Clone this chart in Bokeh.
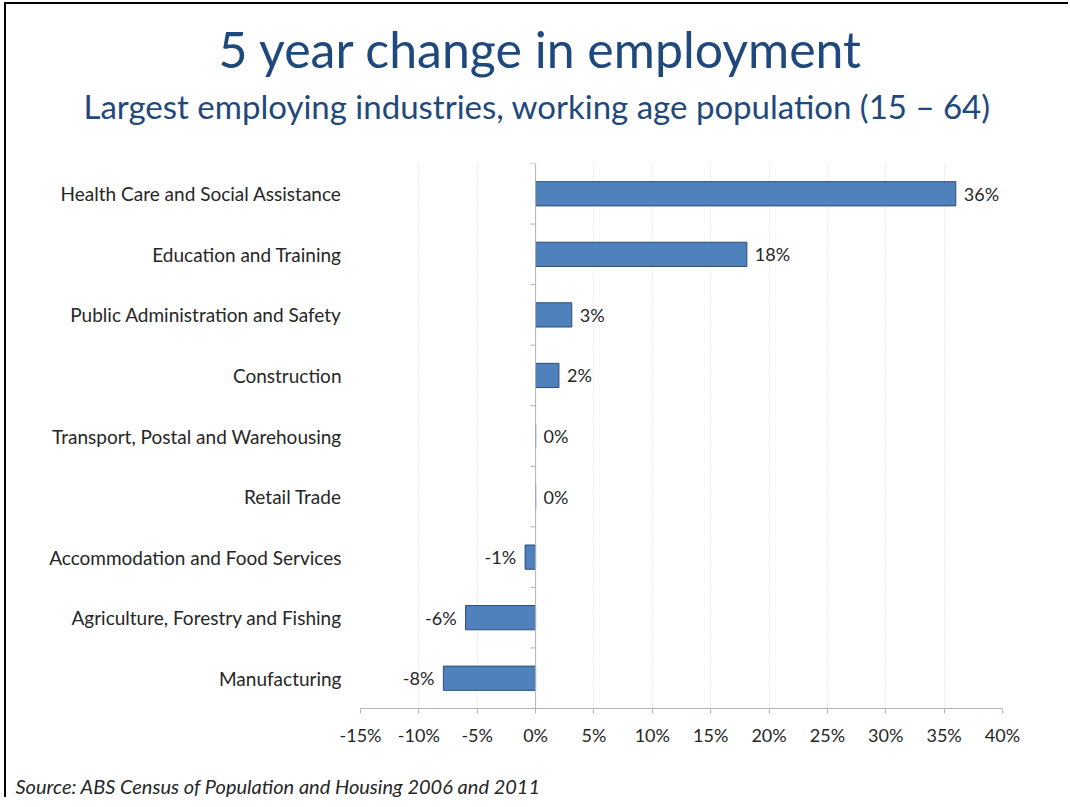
from bokeh.plotting import figure
from bokeh.models import (ColumnDataSource, FactorRange, Range1d, FixedTicker,
                          PrintfTickFormatter, Span, Title)
from bokeh.core.properties import value
from bokeh.embed import file_html
from bokeh.resources import INLINE

# ---- data ----
categories = ["Health Care and Social Assistance", "Education and Training",
              "Public Administration and Safety", "Construction",
              "Transport, Postal and Warehousing", "Retail Trade",
              "Accommodation and Food Services", "Agriculture, Forestry and Fishing",
              "Manufacturing"]
values = [36.0, 18.1, 3.1, 2.0, 0.0, 0.0, -0.9, -6.0, -7.9]
value_labels = ["36%", "18%", "3%", "2%", "0%", "0%", "-1%", "-6%", "-8%"]
x_ticks = [-15, -10, -5, 0, 5, 10, 15, 20, 25, 30, 35, 40]

TITLE = "5 year change in employment"
SUBTITLE = "Largest employing industries, working age population (15 \u2013 64)"
SOURCE = "Source: ABS Census of Population and Housing 2006 and 2011"

FONT = "Lato"
NAVY = "#1F497D"
TXT = "#262626"
AXIS = "#B4B4B4"

p = figure(width=1064, height=795, output_backend="svg", toolbar_location=None,
           y_range=FactorRange(factors=categories[::-1]),
           x_range=Range1d(x_ticks[0], x_ticks[-1]),
           min_border_left=354, min_border_right=68,
           min_border_top=159, min_border_bottom=91)
p.styles = {"margin-left": "4px", "margin-top": "2px", "margin-bottom": "-12px",
            "margin-right": "-16px",
            "border-left": "2px solid #000", "border-top": "2px solid #000"}
p.outline_line_color = None
p.background_fill_color = "white"
p.border_fill_color = "white"

src = ColumnDataSource(dict(cat=categories, val=values, lab=value_labels))
p.hbar(y="cat", left=0, right="val", height=0.4, source=src,
       fill_color="#4F81BD", line_color="#2C4D75", line_width=1)

# value labels
pos = [i for i, v in enumerate(values) if v >= 0]
neg = [i for i, v in enumerate(values) if v < 0]
src_pos = ColumnDataSource(dict(cat=[categories[i] for i in pos],
                                val=[values[i] for i in pos],
                                lab=[value_labels[i] for i in pos]))
src_neg = ColumnDataSource(dict(cat=[categories[i] for i in neg],
                                val=[values[i] for i in neg],
                                lab=[value_labels[i] for i in neg]))
p.text(x="val", y="cat", text="lab", source=src_pos, x_offset=8,
       text_align="left", text_baseline="middle", text_font=value(FONT),
       text_font_size="18px", text_color=TXT)
p.text(x="val", y="cat", text="lab", source=src_neg, x_offset=-9,
       text_align="right", text_baseline="middle", text_font=value(FONT),
       text_font_size="18px", text_color=TXT)

# zero axis line with small category ticks
p.add_layout(Span(location=0, dimension="height", line_color=AXIS, line_width=1))
bounds = list(range(len(categories) + 1))
p.segment(x0=[0] * len(bounds), x1=[-0.45] * len(bounds), y0=bounds, y1=bounds,
          line_color=AXIS, line_width=1)

# axes
p.xaxis.ticker = FixedTicker(ticks=x_ticks)
p.xaxis.formatter = PrintfTickFormatter(format="%d%%")
p.xaxis.axis_line_color = AXIS
p.xaxis.major_tick_line_color = AXIS
p.xaxis.major_tick_out = 5
p.xaxis.major_tick_in = 0
p.xaxis.minor_tick_line_color = None
p.xaxis.major_label_text_font = FONT
p.xaxis.major_label_text_font_size = "18px"
p.xaxis.major_label_text_color = TXT
p.xaxis.major_label_standoff = 10

p.yaxis.axis_line_color = None
p.yaxis.major_tick_line_color = None
p.yaxis.major_tick_out = 0
p.yaxis.major_tick_in = 0
p.yaxis.minor_tick_line_color = None
p.yaxis.major_label_text_font = FONT
p.yaxis.major_label_text_font_size = "19px"
p.yaxis.major_label_text_color = TXT
p.yaxis.major_label_standoff = 19

p.xgrid.grid_line_color = "#D4D4D4"
p.xgrid.grid_line_dash = "1 2"
p.ygrid.grid_line_color = None

# titles: subtitle nearest the frame, main title above it
p.add_layout(Title(text=SUBTITLE, align="left", offset=-277, text_font=FONT,
                   text_font_size="33px", text_font_style="normal",
                   text_color=NAVY, standoff=75), "above")
p.add_layout(Title(text=TITLE, align="left", offset=-142, text_font=FONT,
                   text_font_size="50px", text_font_style="normal",
                   text_color=NAVY, standoff=-64), "above")
# spacer between the axis and the source note
p.add_layout(Title(text=" ", text_font_size="1px", standoff=20), "below")
p.add_layout(Title(text=SOURCE, align="left", offset=-345, text_font=FONT,
                   text_font_size="20px", text_font_style="italic",
                   text_color=TXT, standoff=0), "below")

open("out.html", "w").write(file_html(p, INLINE))
